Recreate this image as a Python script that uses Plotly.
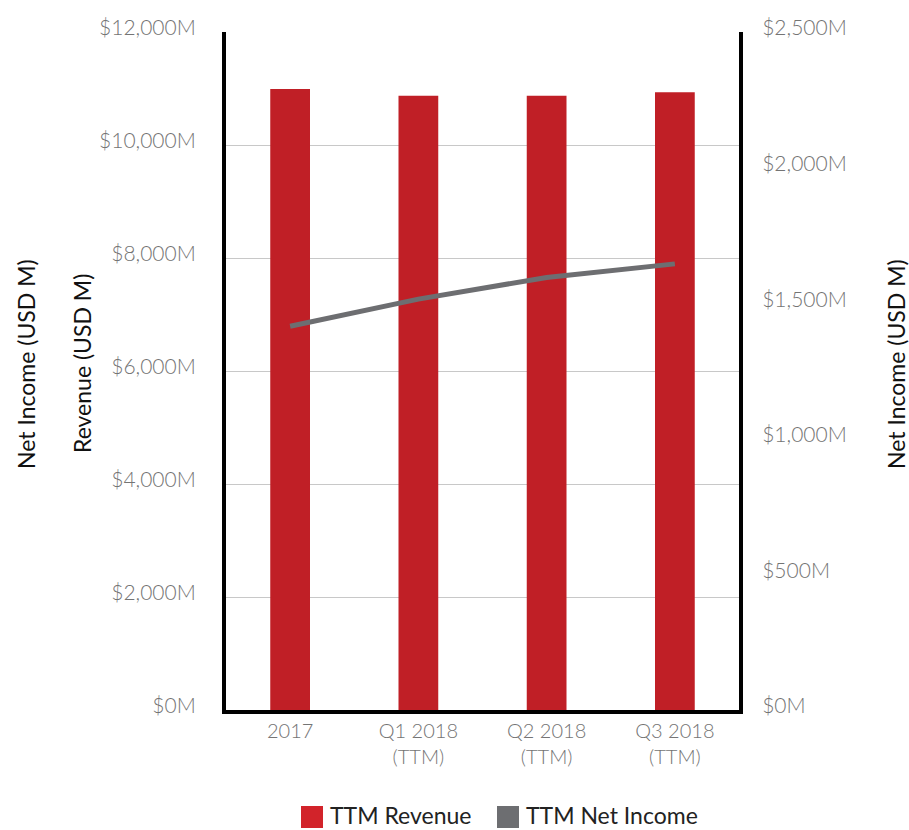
import plotly.graph_objects as go

# Trailing-twelve-month figures, USD millions
periods = ["2017", "Q1 2018<br>(TTM)", "Q2 2018<br>(TTM)", "Q3 2018<br>(TTM)"]
revenue = [10990, 10870, 10870, 10935]
net_income = [1415, 1515, 1595, 1645]

rev_ticks = [0, 2000, 4000, 6000, 8000, 10000, 12000]
ni_ticks = [0, 500, 1000, 1500, 2000, 2500]


def money(v):
    return f"${v:,}M"


BAR_RED = "#c01f26"
LEGEND_RED = "#d2232a"
LINE_GRAY = "#6d6e71"
TICK_GRAY = "#747474"

W, H = 909, 830
M_L, M_R, M_T, M_B = 226, 170, 32, 120
PLOT_W = W - M_L - M_R
PLOT_H = H - M_T - M_B


def px_x(px):
    """Page pixel column -> paper x."""
    return (px - M_L) / PLOT_W


def px_y(py):
    """Page pixel row -> paper y."""
    return (H - M_B - py) / PLOT_H


fig = go.Figure()

fig.add_trace(go.Bar(
    x=periods, y=revenue, name="TTM Revenue",
    marker=dict(color=BAR_RED, line=dict(width=0)),
    width=0.31, showlegend=False, yaxis="y",
))
fig.add_trace(go.Scatter(
    x=periods, y=net_income, name="TTM Net Income", mode="lines",
    line=dict(color=LINE_GRAY, width=5), showlegend=False, yaxis="y2",
))

tick_font = dict(family="Lato", size=21, color=TICK_GRAY, weight=300)
title_font = dict(family="Lato", size=23, color="#111111")
legend_font = dict(family="Lato", size=23, color="#222222")

# legend: large square swatches followed by labels
legend_items = [("TTM Revenue", LEGEND_RED, 301), ("TTM Net Income", LINE_GRAY, 497)]
shapes = []
annotations = []
for label, color, left in legend_items:
    shapes.append(dict(
        type="rect", xref="paper", yref="paper",
        x0=px_x(left), x1=px_x(left + 22), y0=px_y(828), y1=px_y(806),
        fillcolor=color, line=dict(width=0),
    ))
    annotations.append(dict(
        text=label, xref="paper", yref="paper",
        x=px_x(left + 28), y=px_y(830), xanchor="left", yanchor="bottom",
        borderpad=0, showarrow=False, font=legend_font,
    ))

annotations += [
    dict(text="Revenue (USD M)", xref="paper", yref="paper",
         x=px_x(82), y=px_y(364), xanchor="center", yanchor="middle",
         textangle=-90, showarrow=False, font=title_font),
    dict(text="Net Income (USD M)", xref="paper", yref="paper",
         x=px_x(26), y=px_y(364), xanchor="center", yanchor="middle",
         textangle=-90, showarrow=False, font=title_font),
    dict(text="Net Income (USD M)", xref="paper", yref="paper",
         x=px_x(896), y=px_y(364), xanchor="center", yanchor="middle",
         textangle=-90, showarrow=False, font=title_font),
]

fig.update_layout(
    width=W, height=H,
    margin=dict(l=M_L, r=M_R, t=M_T, b=M_B, autoexpand=False),
    paper_bgcolor="white", plot_bgcolor="white",
    showlegend=False,
    xaxis=dict(
        type="category", range=[-0.5, 3.5],
        showline=True, linewidth=4, linecolor="black",
        showgrid=False, ticks="", tickfont=dict(tick_font, size=20),
        ticklabelstandoff=0,
    ),
    yaxis=dict(
        range=[0, 12000], tickvals=rev_ticks,
        ticktext=[money(v) for v in rev_ticks],
        showline=True, linewidth=4, linecolor="black",
        showgrid=True, gridcolor="#c8c8c8", gridwidth=1,
        zeroline=False, ticks="", tickfont=tick_font,
        ticklabelstandoff=22, ticklabelshift=-4,
    ),
    yaxis2=dict(
        range=[0, 2500], tickvals=ni_ticks, overlaying="y", side="right",
        ticktext=[money(v) for v in ni_ticks],
        showline=True, linewidth=4, linecolor="black",
        showgrid=False, zeroline=False, ticks="", tickfont=tick_font,
        ticklabelstandoff=15, ticklabelshift=-4,
    ),
    shapes=shapes,
    annotations=annotations,
)

fig.write_html("out.html")
